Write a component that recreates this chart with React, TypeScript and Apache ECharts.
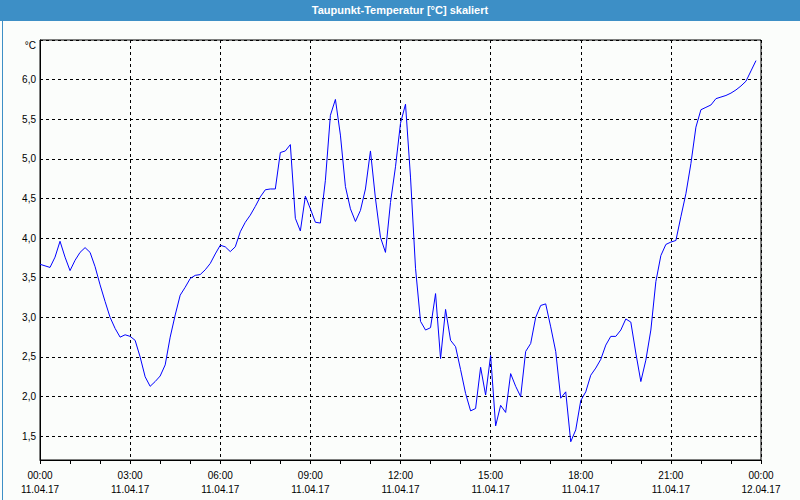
import React, { useEffect, useRef } from "react";
import * as echarts from "echarts";

const TITLE = "Taupunkt-Temperatur [°C] skaliert";
const UNIT = "°C";
const START_LABEL = "00:00";
const STEP_MIN = 10;

// Dew point every 10 minutes from 00:00 11.04.17
const values = [
  3.67, 3.65, 3.63, 3.76, 3.96, 3.76, 3.59, 3.72, 3.82, 3.88,
  3.82, 3.64, 3.41, 3.20, 3.00, 2.86, 2.75, 2.78, 2.76, 2.71,
  2.50, 2.25, 2.13, 2.19, 2.26, 2.40, 2.75, 3.03, 3.28, 3.38,
  3.49, 3.53, 3.54, 3.60, 3.68, 3.80, 3.91, 3.89, 3.83, 3.89,
  4.08, 4.20, 4.29, 4.40, 4.52, 4.61, 4.62, 4.62, 5.08, 5.10,
  5.18, 4.25, 4.09, 4.53, 4.37, 4.20, 4.19, 4.73, 5.55, 5.75,
  5.30, 4.65, 4.37, 4.21, 4.35, 4.62, 5.10, 4.50, 4.01, 3.82,
  4.45, 4.90, 5.45, 5.69, 4.77, 3.62, 2.95, 2.84, 2.87, 3.30,
  2.48, 3.10, 2.71, 2.63, 2.34, 2.04, 1.82, 1.85, 2.37, 2.02,
  2.52, 1.63, 1.89, 1.80, 2.29, 2.13, 2.00, 2.57, 2.67, 3.00,
  3.15, 3.17, 2.88, 2.57, 1.98, 2.06, 1.43, 1.58, 1.95, 2.06,
  2.27, 2.36, 2.47, 2.65, 2.76, 2.76, 2.84, 2.98, 2.94, 2.55,
  2.19, 2.46, 2.84, 3.45, 3.78, 3.92, 3.95, 3.97, 4.27, 4.56,
  4.94, 5.40, 5.62, 5.65, 5.68, 5.76, 5.78, 5.80, 5.83, 5.87,
  5.92, 5.98, 6.11, 6.24,
];

const xTickTimes = ["00:00", "03:00", "06:00", "09:00", "12:00", "15:00", "18:00", "21:00", "00:00"];
const xTickDates = ["11.04.17", "11.04.17", "11.04.17", "11.04.17", "11.04.17", "11.04.17", "11.04.17", "11.04.17", "12.04.17"];
const X_MIN = 0;
const X_MAX = 1440;
const X_STEP = 180;
const Y_MIN = 1.2;
const Y_MAX = 6.5;

const FONT = "'Liberation Sans', Arial, sans-serif";
const BLUE = "#3d8fc6";

export default function App() {
  const ref = useRef<HTMLDivElement>(null);
  useEffect(() => {
    if (!ref.current) return;
    const chart = echarts.init(ref.current, undefined, { renderer: "svg" });
    const data = values.map((v, i) => [i * STEP_MIN, v]);
    chart.setOption({
      animation: false,
      backgroundColor: "#fbfdfb",
      textStyle: { fontFamily: FONT },
      graphic: [
        { type: "rect", left: 0, top: 0, shape: { width: 800, height: 21 }, style: { fill: BLUE }, z: 0 },
        { type: "rect", left: 0, top: 0, shape: { width: 799, height: 499 }, style: { fill: "none", stroke: BLUE, lineWidth: 1 }, z: 0 },
        {
          type: "text",
          x: 400,
          y: 10,
          style: { text: TITLE, fill: "#ffffff", font: `bold 11px ${FONT}`, align: "center", verticalAlign: "middle" },
          z: 10,
        },
        {
          type: "text",
          x: 36,
          y: 45,
          style: { text: UNIT, fill: "#000", font: `10px ${FONT}`, align: "right", verticalAlign: "middle" },
          z: 10,
        },
      ],
      grid: { left: 40, right: 39, top: 40, bottom: 40, show: true, borderColor: "#000", borderWidth: 1, backgroundColor: "transparent" },
      xAxis: {
        type: "value",
        min: X_MIN,
        max: X_MAX,
        interval: X_STEP,
        axisLine: { show: true, lineStyle: { color: "#000", width: 1 } },
        axisTick: { show: true, length: 4, lineStyle: { color: "#000" } },
        minorTick: { show: true, splitNumber: 3, length: 4, lineStyle: { color: "#000" } },
        splitLine: { show: true, lineStyle: { color: "#000", type: [3, 3], width: 1 } },
        axisLabel: {
          color: "#000",
          fontSize: 10,
          fontFamily: FONT,
          margin: 8,
          lineHeight: 14,
          formatter: (v: number) => {
            const i = Math.round((v - X_MIN) / X_STEP);
            return `${xTickTimes[i] ?? START_LABEL}\n${xTickDates[i] ?? ""}`;
          },
        },
      },
      yAxis: {
        type: "value",
        min: Y_MIN,
        max: Y_MAX,
        splitNumber: 10,
        axisLine: { show: true, lineStyle: { color: "#000", width: 1 } },
        axisTick: { show: false },
        axisLabel: {
          color: "#000",
          fontSize: 10,
          fontFamily: FONT,
          margin: 4,
          showMinLabel: false,
          showMaxLabel: false,
          formatter: (v: number) => v.toFixed(1).replace(".", ","),
        },
        splitLine: { show: true, lineStyle: { color: "#000", type: [3, 3], width: 1 } },
      },
      series: [
        {
          type: "line",
          data,
          showSymbol: false,
          symbol: "none",
          lineStyle: { color: "#0000ff", width: 1 },
          itemStyle: { color: "#0000ff" },
        },
      ],
    });
    return () => chart.dispose();
  }, []);
  return (
    <div
      ref={ref}
      style={{ position: "absolute", left: 0, top: 0, width: 800, height: 500 }}
    />
  );
}
